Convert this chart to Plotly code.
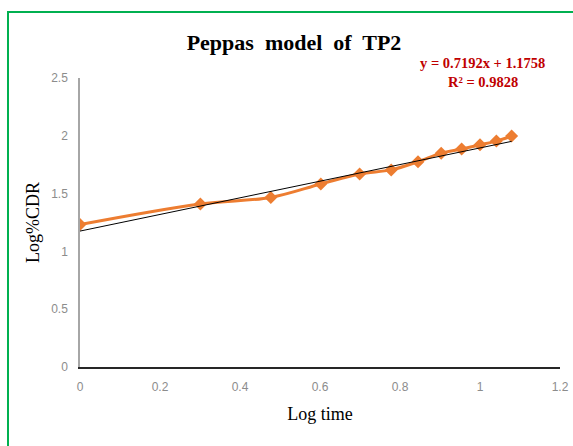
import plotly.graph_objects as go

# Data
log_time = [0.0, 0.301, 0.477, 0.602, 0.699, 0.778, 0.845, 0.903, 0.954, 1.0, 1.041, 1.079]
log_cdr = [1.232, 1.41, 1.467, 1.583, 1.67, 1.705, 1.776, 1.85, 1.885, 1.922, 1.954, 1.998]
slope = 0.7192
intercept = 1.1758
r2 = 0.9828
x_ticks = [0, 0.2, 0.4, 0.6, 0.8, 1, 1.2]
y_ticks = [0, 0.5, 1, 1.5, 2, 2.5]

W, H = 573, 446
L, R, T, B = 80, 13, 78, 79

trend_x = [min(log_time), max(log_time)]
trend_y = [slope * v + intercept for v in trend_x]

fig = go.Figure()
fig.add_trace(go.Scatter(
    x=log_time, y=log_cdr, mode="lines+markers",
    line=dict(color="#ED7D31", width=3, shape="spline", smoothing=1.0),
    marker=dict(symbol="diamond", size=10, color="#ED7D31"),
    showlegend=False, hoverinfo="skip"))
fig.add_trace(go.Scatter(
    x=trend_x, y=trend_y, mode="lines",
    line=dict(color="#000000", width=1), showlegend=False, hoverinfo="skip"))

def px2paper_x(px):
    return (px - L) / (W - L - R)

def px2paper_y(py):
    return (H - B - py) / (H - T - B)

fig.add_shape(type="rect", xref="paper", yref="paper",
              x0=px2paper_x(8), x1=px2paper_x(700),
              y0=px2paper_y(600), y1=px2paper_y(12),
              line=dict(color="#00B050", width=2), fillcolor="rgba(0,0,0,0)", layer="below")

fig.add_annotation(xref="paper", yref="paper", x=px2paper_x(547), y=px2paper_y(63),
                   xanchor="right", yanchor="middle", showarrow=False,
                   text=f"<b>y = {slope}x + {intercept}</b>",
                   font=dict(family="Liberation Serif", size=14.5, color="#C00000"))
fig.add_annotation(xref="paper", yref="paper", x=px2paper_x(483), y=px2paper_y(82),
                   xanchor="center", yanchor="middle", showarrow=False,
                   text=f"<b>R² = {r2}</b>",
                   font=dict(family="Liberation Serif", size=14.5, color="#C00000"))

fig.update_layout(
    width=W, height=H, autosize=False,
    margin=dict(l=L, r=R, t=T, b=B),
    paper_bgcolor="white", plot_bgcolor="white",
    hovermode=False,
    title=dict(text="<b>Peppas  model  of  TP2</b>", x=294 / W, xanchor="center",
               y=1 - 42 / H, yanchor="middle",
               font=dict(family="Liberation Serif", size=22, color="black")),
    xaxis=dict(range=[0, 1.2], tickvals=x_ticks, ticktext=[f"{v:g}" for v in x_ticks],
               showgrid=False, zeroline=False, showline=True, linecolor="#262626", linewidth=1.5,
               ticks="", ticklabelstandoff=8, automargin=False,
               tickfont=dict(family="Liberation Sans", size=12, color="#8c8c8c"),
               title=dict(text="Log time", font=dict(family="Liberation Serif", size=18, color="black"),
                          standoff=14)),
    yaxis=dict(range=[0, 2.5], tickvals=y_ticks, ticktext=[f"{v:g}" for v in y_ticks],
               showgrid=False, zeroline=False, showline=True, linecolor="#a6a6a6", linewidth=1.5,
               ticks="", ticklabelstandoff=8, automargin=False,
               tickfont=dict(family="Liberation Sans", size=12, color="#8c8c8c"),
               title=dict(text="Log%CDR", font=dict(family="Liberation Serif", size=18, color="black"),
                          standoff=7)),
)

fig.write_html("out.html", config={"displayModeBar": False},
               post_script="document.body.style.margin='0px';document.body.style.overflow='hidden';")
